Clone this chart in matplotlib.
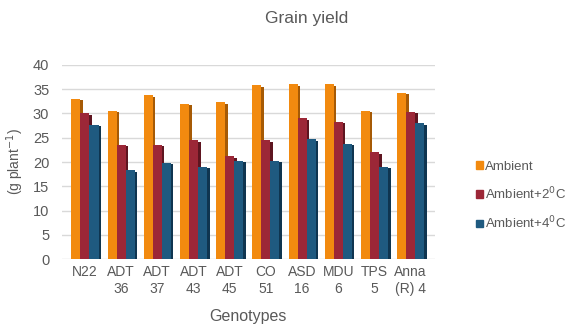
import numpy as np
import matplotlib
matplotlib.use("Agg")
import matplotlib.pyplot as plt
from matplotlib.patches import Patch

plt.rcParams['font.family'] = ['Liberation Sans', 'DejaVu Sans']

# Grain yield per genotype (g plant-1)
genotypes = ["N22", "ADT\n36", "ADT\n37", "ADT\n43", "ADT\n45",
             "CO\n51", "ASD\n16", "MDU\n6", "TPS\n5", "Anna\n(R) 4"]
ambient = [33.0, 30.5, 33.7, 32.0, 32.3, 35.8, 36.0, 36.0, 30.5, 34.3]
ambient_2c = [30.0, 23.5, 23.5, 24.5, 21.2, 24.5, 29.0, 28.3, 22.0, 30.3]
ambient_4c = [27.7, 18.3, 19.8, 19.0, 20.2, 20.2, 24.7, 23.8, 19.0, 28.0]

series = [ambient, ambient_2c, ambient_4c]
labels = ["Ambient", "Ambient+2$^{0}$C", "Ambient+4$^{0}$C"]
colors = ["#F28A0F", "#9C2737", "#1F5A80"]
side_colors = ["#A65A05", "#5E1520", "#0F3550"]

fig = plt.figure(figsize=(5.67, 3.24), dpi=100)
ax = fig.add_axes([0.109, 0.2, 0.658, 0.6])

x = np.arange(len(genotypes))
w = 0.25
d = 0.07

# darker side faces first, so the next bar's front covers them
for i, vals in enumerate(series):
    pos = x + (i - 1) * w + w / 2 + d / 2
    ax.bar(pos, np.array(vals) - 0.3, width=d, color=side_colors[i], zorder=2)
for i, vals in enumerate(series):
    pos = x + (i - 1) * w
    ax.bar(pos, vals, width=w, color=colors[i], zorder=3)

ax.set_ylim(0, 40)
ax.set_xlim(-0.64, 9.67)
ax.set_yticks(range(0, 41, 5))
ax.set_xticks(x)
ax.set_xticklabels(genotypes, linespacing=1.3)
ax.yaxis.grid(True, color="#D9D9D9", linewidth=1)
ax.set_axisbelow(True)
for s in ax.spines.values():
    s.set_visible(False)
ax.tick_params(axis="both", length=0, colors="#595959")
ax.tick_params(axis="y", labelsize=10.5, pad=9)
ax.tick_params(axis="x", labelsize=10, pad=4)

ax.set_xlabel("Genotypes", fontsize=11.5, color="#595959", labelpad=9)
ax.set_ylabel("(g plant$^{-1}$)", fontsize=10, color="#595959", labelpad=5)
fig.suptitle("Grain yield", x=0.54, y=0.965, fontsize=12.5, color="#595959")

handles = [Patch(color=c) for c in colors]
leg = fig.legend(handles, labels, loc="center left", bbox_to_anchor=(0.818, 0.395),
                 frameon=False, fontsize=9.5, handlelength=0.55, handleheight=0.55,
                 handletextpad=0.15, labelspacing=0.95, labelcolor="#595959")

fig.savefig("out.png", dpi=100)
